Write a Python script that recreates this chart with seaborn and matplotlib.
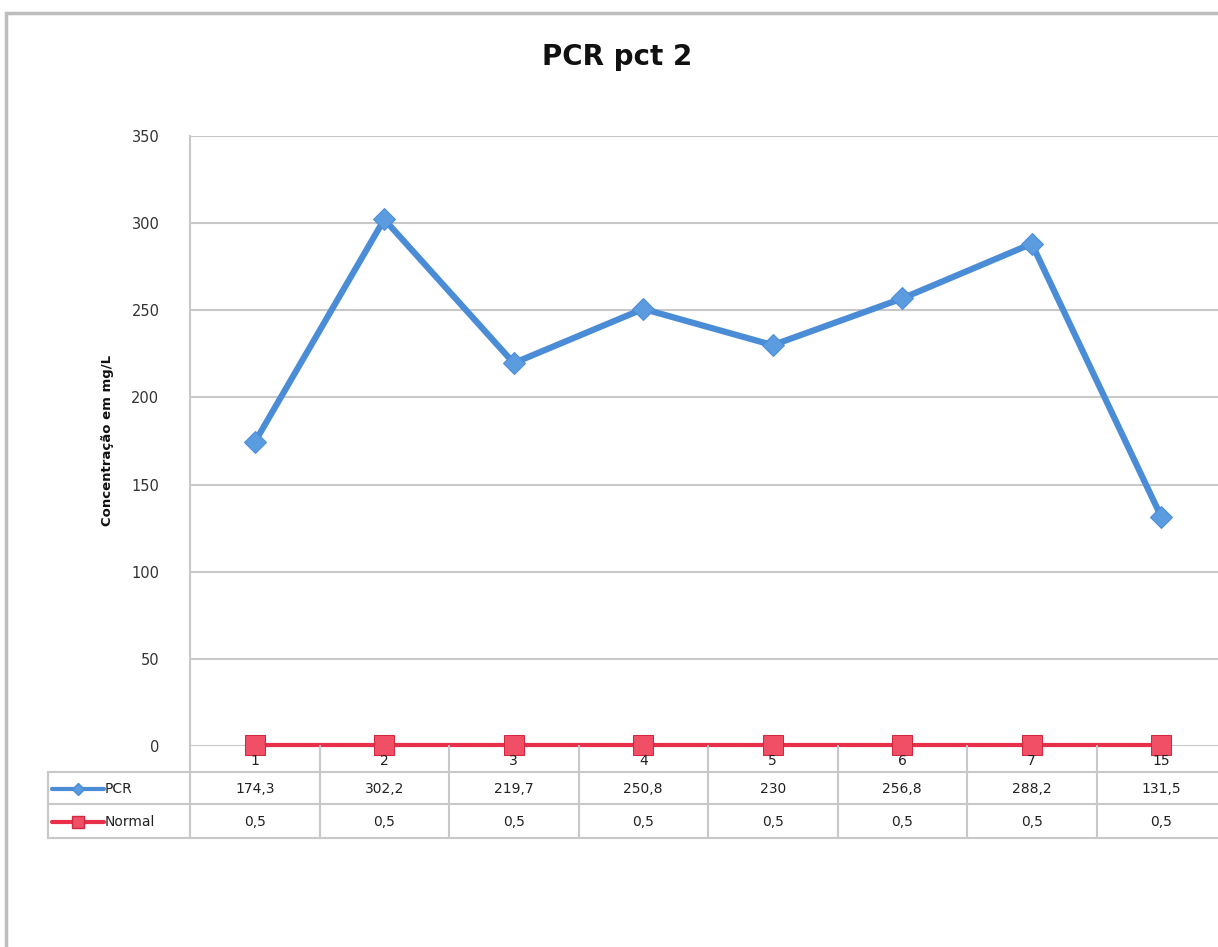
import numpy as np
import pandas as pd
import matplotlib
matplotlib.use("Agg")
import matplotlib.pyplot as plt
from matplotlib.lines import Line2D
from matplotlib.patches import Rectangle
from matplotlib.transforms import blended_transform_factory
import seaborn as sns

# Data
categories = ["1", "2", "3", "4", "5", "6", "7", "15"]
pcr_values = [174.3, 302.2, 219.7, 250.8, 230, 256.8, 288.2, 131.5]
normal_values = [0.5, 0.5, 0.5, 0.5, 0.5, 0.5, 0.5, 0.5]
y_ticks = [0, 50, 100, 150, 200, 250, 300, 350]

blue = "#4A8DD6"
red = "#E8304A"
grid_col = "#C8C8C8"
txt_col = "#222222"

sns.set_theme(style="white")
plt.rcParams["font.family"] = ["DejaVu Sans"]

W, H = 1218, 947
fig = plt.figure(figsize=(W / 100, H / 100), dpi=100)


def fy(p):
    return 1 - p / H


# plot area in pixel coordinates of the reference
left, right, top, bottom = 190, 1226, 136, 746
ax = fig.add_axes([left / W, fy(bottom), (right - left) / W, (bottom - top) / H])

df = pd.DataFrame({
    "dia": categories * 2,
    "valor": pcr_values + normal_values,
    "serie": ["PCR"] * len(categories) + ["Normal"] * len(categories),
})

sns.lineplot(data=df[df.serie == "PCR"], x="dia", y="valor", ax=ax,
             color=blue, lw=4.5, marker="D", markersize=11,
             markerfacecolor="#5B9BE0", markeredgecolor=blue, zorder=4,
             clip_on=False)
sns.lineplot(data=df[df.serie == "Normal"], x="dia", y="valor", ax=ax,
             color=red, lw=3, marker="s", markersize=15,
             markerfacecolor="#F04F66", markeredgecolor="#D2283F", zorder=5,
             clip_on=False)

ax.set_xlim(-0.5, len(categories) - 0.5)
ax.set_ylim(0, 350)
ax.set_yticks(y_ticks)
ax.set_yticklabels([str(t) for t in y_ticks], fontsize=10.5, color="#333333")
ax.tick_params(axis="y", length=0, pad=22)
ax.set_xticks([])
ax.set_xlabel("")
ax.set_ylabel("")
ax.yaxis.grid(True, color=grid_col, lw=1.5)
ax.set_axisbelow(True)
for s in ["top", "right", "bottom"]:
    ax.spines[s].set_visible(False)
ax.spines["left"].set_color(grid_col)
ax.spines["left"].set_linewidth(1.5)

# data table below the plot
tr = blended_transform_factory(ax.transData, fig.transFigure)
rows_y = [bottom, 772, 804, 838]
tab_left = 48
for yy in rows_y[1:]:
    fig.add_artist(Line2D([tab_left / W, 1.01], [fy(yy), fy(yy)],
                          color=grid_col, lw=1.5, transform=fig.transFigure))
fig.add_artist(Line2D([tab_left / W, tab_left / W], [fy(772), fy(838)],
                      color=grid_col, lw=1.5, transform=fig.transFigure))
for i in range(len(categories) + 1):
    xx = i - 0.5
    fig.add_artist(Line2D([xx, xx], [fy(bottom), fy(838)], color=grid_col,
                          lw=1.5, transform=tr))

for i, c in enumerate(categories):
    fig.text(i, fy(761), c, transform=tr, ha="center", va="center",
             fontsize=10, color=txt_col)
    fig.text(i, fy(789), f"{pcr_values[i]:g}".replace(".", ","), transform=tr,
             ha="center", va="center", fontsize=10, color=txt_col)
    fig.text(i, fy(822), f"{normal_values[i]:g}".replace(".", ","), transform=tr,
             ha="center", va="center", fontsize=10, color=txt_col)

# legend keys inside the table header column
fig.add_artist(Line2D([52 / W, 78 / W, 104 / W], [fy(789)] * 3, color=blue,
                      lw=3, marker="D", markersize=6, markevery=[1],
                      markerfacecolor="#5B9BE0", transform=fig.transFigure))
fig.add_artist(Line2D([52 / W, 78 / W, 104 / W], [fy(822)] * 3, color=red,
                      lw=3, marker="s", markersize=8, markevery=[1],
                      markerfacecolor="#F04F66", markeredgecolor="#D2283F",
                      transform=fig.transFigure))
fig.text(105 / W, fy(789), "PCR", ha="left", va="center", fontsize=10,
         color=txt_col)
fig.text(105 / W, fy(822), "Normal", ha="left", va="center", fontsize=10,
         color=txt_col)

# titles
fig.text(617 / W, fy(57), "PCR pct 2", ha="center", va="center",
         fontsize=20, fontweight="bold", color="#111111")
fig.text(108 / W, fy(440), "Concentração em mg/L", ha="center", va="center",
         rotation=90, fontsize=9.5, fontweight="bold", color="#111111")

# outer chart frame
fig.add_artist(Rectangle((6 / W, -0.05), 1.1, fy(13) + 0.05, fill=False,
                         edgecolor="#BDBDBD", lw=2.5, transform=fig.transFigure))

fig.savefig("out.png", dpi=100)
